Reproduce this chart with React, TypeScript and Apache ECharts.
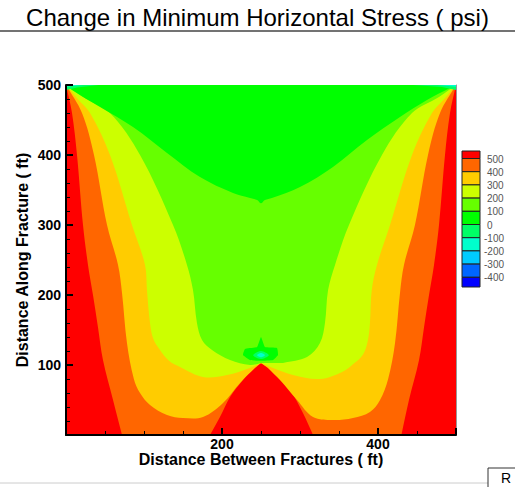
import { useEffect, useRef } from "react";
import * as echarts from "echarts";

type Pt = [number, number];

const FONT = "'Liberation Sans', Arial, Helvetica, sans-serif";

// Contour levels (psi) shown in the legend, top to bottom
const legendLevels = [500, 400, 300, 200, 100, 0, -100, -200, -300, -400];
// Fill colour of each band, from ">500" down to "<-400"
const bandColors = [
  "#FF0000", "#FF6600", "#FFCC00", "#CCFF00", "#66FF00", "#00FF00",
  "#00FF66", "#00FFCC", "#00CCFF", "#0066FF", "#0000FF",
];

// Whole model domain (ft): distance between fractures x distance along fracture
const modelDomain: Pt[] = [[0, 0], [500, 0], [500, 500], [0, 500]];

// 500 psi contour next to the left fracture
const level500Left: Pt[] = [
  [0, 500], [7.7, 460], [14.1, 400], [21.8, 300], [28.2, 243], [34.6, 200],
  [41, 154], [47.4, 107], [60.3, 50], [71.8, 0],
];
// 500 psi contour around the high-stress wedge below the fracture tip
const redPeakLeft: Pt[] = [
  [184.6, 0], [197.4, 25.7], [210.3, 54.3], [226.9, 78.6], [239.7, 95.7], [250, 102.9],
];
const redPeakRight: Pt[] = [
  [257.7, 97.1], [270.5, 82.9], [287.2, 64.3], [303.8, 31.4], [316.7, 0],
];
// 500 psi contour next to the right fracture
const level500Right: Pt[] = [
  [430, 0], [439.7, 50], [452.6, 107], [459, 154], [465.4, 200], [471.8, 243],
  [478.2, 300], [485.9, 400], [492.3, 460], [500, 500],
];

// 400 psi contour
const level400Left: Pt[] = [
  [0, 500], [20.5, 460], [35.9, 400], [52.6, 300], [66.7, 243], [71.8, 203],
  [78.2, 131], [87, 80], [94.9, 60], [107.7, 42.9], [129.5, 28.6], [150, 24.3],
  [175.6, 25.7], [201.3, 45.7], [223.1, 74.3], [242.3, 95.7], [250, 102.9],
];
const level400Right: Pt[] = [
  [259, 95.7], [274.4, 78.6], [296.2, 50], [316.7, 25.7], [342.3, 21.4],
  [367.9, 24.3], [389.7, 32.9], [402.6, 50], [413, 80], [421.8, 131],
  [428.2, 203], [433.3, 243], [447.4, 300], [464.1, 400], [479.5, 460], [500, 500],
];

// 300 psi contour
const level300Left: Pt[] = [
  [0, 500], [15, 480], [30.8, 460], [56.4, 400], [84.6, 300], [101.3, 243],
  [103.8, 207], [107.7, 160], [112, 137], [120.5, 121.4], [132, 106],
  [146.2, 97.1], [175.6, 82.9], [206.4, 85.7], [235.9, 95.7], [250, 102.9],
];
const level300Right: Pt[] = [
  [265.4, 95.7], [291, 85.7], [325.6, 80], [354, 90], [369, 102], [380.8, 115],
  [387, 135], [389.7, 160], [392, 207], [398.7, 243], [415.4, 300],
  [443.6, 400], [469.2, 460], [485, 480], [500, 500],
];

// 200 psi contour
const level200Left: Pt[] = [
  [0, 500], [21.8, 483], [56.4, 460], [94.9, 400], [137.2, 300], [155.1, 243],
  [162.8, 207], [167.9, 160], [174.4, 135.7], [187.2, 121.4], [210.3, 107.1],
  [235.9, 100], [250, 102.9],
];
const level200Right: Pt[] = [
  [278.2, 102.9], [309, 111.4], [325.6, 131.4], [332, 160], [336, 207],
  [344.9, 243], [362.8, 300], [405.1, 400], [443.6, 460], [478.2, 483], [500, 500],
];

// 100 psi contour, bounding the low-change zone near the top edge
const level100: Pt[] = [
  [0, 500], [7.7, 493], [43.6, 468.6], [85.9, 440], [129.5, 403], [171.8, 368.6],
  [214.1, 345.7], [235.9, 338.6], [245, 335.7], [250, 331], [255, 335.7],
  [264, 338.6], [300, 354.3], [342.3, 383], [385.9, 421.4], [428.2, 454.3],
  [462.8, 478.6], [492.3, 495.7], [500, 500],
];

// Stress shadow just above the fracture tip
const tipLevel100: Pt[] = [
  [250, 140], [255.1, 125.7], [270.5, 124.3], [271.8, 114.3], [265.4, 107.1],
  [250, 106], [235.9, 107.1], [226.9, 114.3], [229.5, 122.9], [244.9, 125.7],
];
const tipLevel0: Pt[] = [[250, 120], [260, 114], [250, 108.5], [240, 114]];
const tipLevelMinus100: Pt[] = [[250, 117], [255, 114], [250, 111], [245, 114]];

// Compressive relief along the top edge at both fracture faces
const topLeftLevel0: Pt[] = [[0, 500], [42, 500], [14, 496.5], [0, 493]];
const topLeftLevelMinus100: Pt[] = [[0, 500], [22, 500], [0, 497.5]];
const topRightLevel0: Pt[] = [[445, 500], [500, 500], [500, 493], [482, 497]];
const topRightLevelMinus100: Pt[] = [[476, 500], [500, 500], [500, 497.5]];

interface Region {
  band: number;
  parts: Pt[][];
  corners: boolean;
  smooth: number;
}

// Filled in order: each band is painted over the ones with higher stress
const regions: Region[] = [
  { band: 0, parts: [modelDomain], corners: false, smooth: 0 },
  { band: 1, parts: [level500Left, redPeakLeft, redPeakRight, level500Right], corners: true, smooth: 0.35 },
  { band: 2, parts: [level400Left, level400Right], corners: true, smooth: 0.35 },
  { band: 3, parts: [level300Left, level300Right], corners: true, smooth: 0.35 },
  { band: 4, parts: [level200Left, level200Right], corners: true, smooth: 0.35 },
  { band: 5, parts: [level100], corners: true, smooth: 0.35 },
  { band: 5, parts: [tipLevel100], corners: false, smooth: 0.12 },
  { band: 6, parts: [tipLevel0], corners: false, smooth: 0.3 },
  { band: 7, parts: [tipLevelMinus100], corners: false, smooth: 0.3 },
  { band: 6, parts: [topLeftLevel0], corners: false, smooth: 0 },
  { band: 7, parts: [topLeftLevelMinus100], corners: false, smooth: 0 },
  { band: 6, parts: [topRightLevel0], corners: false, smooth: 0 },
  { band: 7, parts: [topRightLevelMinus100], corners: false, smooth: 0 },
];

// Joins the curves of a region into one outline; repeating the end points
// of each curve keeps the joins sharp when the outline is smoothed.
function outline(region: Region): Pt[] {
  const out: Pt[] = [];
  region.parts.forEach((part) => {
    part.forEach((p, i) => {
      out.push(p);
      if (region.corners && (i === 0 || i === part.length - 1)) out.push(p);
    });
  });
  return out;
}

function legendGraphics() {
  const x = 462;
  const w = 18;
  const top = 151;
  const first = 7.5;
  const step = 13.2;
  const bottom = 287;
  const edges: number[] = [top];
  legendLevels.forEach((_, i) => edges.push(top + first + step * i));
  edges.push(bottom);
  const items: any[] = [];
  bandColors.forEach((c, i) => {
    items.push({
      type: "rect",
      shape: { x, y: edges[i], width: w, height: edges[i + 1] - edges[i] },
      style: { fill: c, stroke: "#222", lineWidth: 1 },
    });
  });
  legendLevels.forEach((v, i) => {
    items.push({
      type: "text",
      x: v < 0 ? 484 : 487,
      y: edges[i + 1] + 0.5,
      style: {
        text: String(v),
        fontFamily: FONT,
        fontSize: 10,
        fill: "#555",
        verticalAlign: "middle",
        align: "left",
      },
    });
  });
  return items;
}

export default function App() {
  const ref = useRef<HTMLDivElement>(null);

  useEffect(() => {
    if (!ref.current) return;
    const chart = echarts.init(ref.current, undefined, { renderer: "svg" });
    const axisFont = { fontFamily: FONT, fontWeight: "bold" as const, color: "#000" };

    chart.setOption({
      animation: false,
      backgroundColor: "#fff",
      title: {
        text: "Change in Minimum Horizontal Stress ( psi)",
        left: "center",
        top: 0,
        textStyle: { fontFamily: FONT, fontSize: 24, fontWeight: "normal", color: "#000" },
      },
      grid: { left: 66, right: 59, top: 85, bottom: 52, containLabel: false, outerBoundsMode: "none" },
      xAxis: {
        type: "value",
        min: 0,
        max: 500,
        interval: 200,
        name: "Distance Between Fractures ( ft)",
        nameLocation: "middle",
        nameGap: 16,
        nameMoveOverlap: false,
        nameTextStyle: { ...axisFont, fontSize: 16 },
        axisLine: { show: true, lineStyle: { color: "#000", width: 2 } },
        axisTick: { show: true, inside: true, length: 7, lineStyle: { color: "#000", width: 2 } },
        minorTick: { show: true, splitNumber: 4, length: 4, lineStyle: { color: "#000", width: 1 } },
        axisLabel: { ...axisFont, fontSize: 14, margin: 2, showMinLabel: false, showMaxLabel: false },
        splitLine: { show: false },
        z: 10,
      },
      yAxis: [
        {
          type: "value",
          min: 0,
          max: 500,
          interval: 100,
          name: "Distance Along Fracture ( ft)",
          nameLocation: "middle",
          nameGap: 36,
          nameMoveOverlap: false,
          nameTextStyle: { ...axisFont, fontSize: 16 },
          axisLine: { show: true, lineStyle: { color: "#000", width: 2 } },
          axisTick: { show: true, inside: true, length: 7, lineStyle: { color: "#000", width: 2 } },
          minorTick: { show: true, splitNumber: 5, length: 4, lineStyle: { color: "#000", width: 1 } },
          axisLabel: { ...axisFont, fontSize: 14, margin: 5, showMinLabel: false },
          splitLine: { show: false },
          z: 10,
        },
        {
          type: "value",
          position: "right",
          min: 0,
          max: 500,
          axisLine: { show: true, lineStyle: { color: "#999", width: 1 } },
          axisTick: { show: false },
          axisLabel: { show: false },
          splitLine: { show: false },
          z: 10,
        },
      ],
      series: [
        {
          type: "custom",
          coordinateSystem: "cartesian2d",
          clip: true,
          silent: true,
          data: regions.map((_, i) => [i, 0]),
          renderItem: (params: any, api: any) => {
            const region = regions[params.dataIndex];
            const points = outline(region).map((p) => api.coord(p));
            return {
              type: "polygon",
              shape: { points, smooth: region.smooth },
              style: { fill: bandColors[region.band], stroke: "none" },
            };
          },
        },
      ],
      graphic: [
        {
          type: "line",
          shape: { x1: 0, y1: 31, x2: 515, y2: 31 },
          style: { stroke: "#444", lineWidth: 1.5 },
        },
        ...legendGraphics(),
        {
          type: "line",
          shape: { x1: 0, y1: 483, x2: 488, y2: 483 },
          style: { stroke: "#ccc", lineWidth: 1 },
        },
        {
          type: "rect",
          shape: { x: 488, y: 468, width: 40, height: 30 },
          style: { fill: "#fff", stroke: "#333", lineWidth: 1 },
        },
        {
          type: "text",
          x: 501,
          y: 478,
          style: { text: "R", fontFamily: FONT, fontSize: 14, fill: "#000", verticalAlign: "middle" },
        },
      ],
    });

    return () => chart.dispose();
  }, []);

  return (
    <div
      ref={ref}
      style={{ position: "fixed", left: 0, top: 0, width: 515, height: 487, background: "#fff" }}
    />
  );
}
